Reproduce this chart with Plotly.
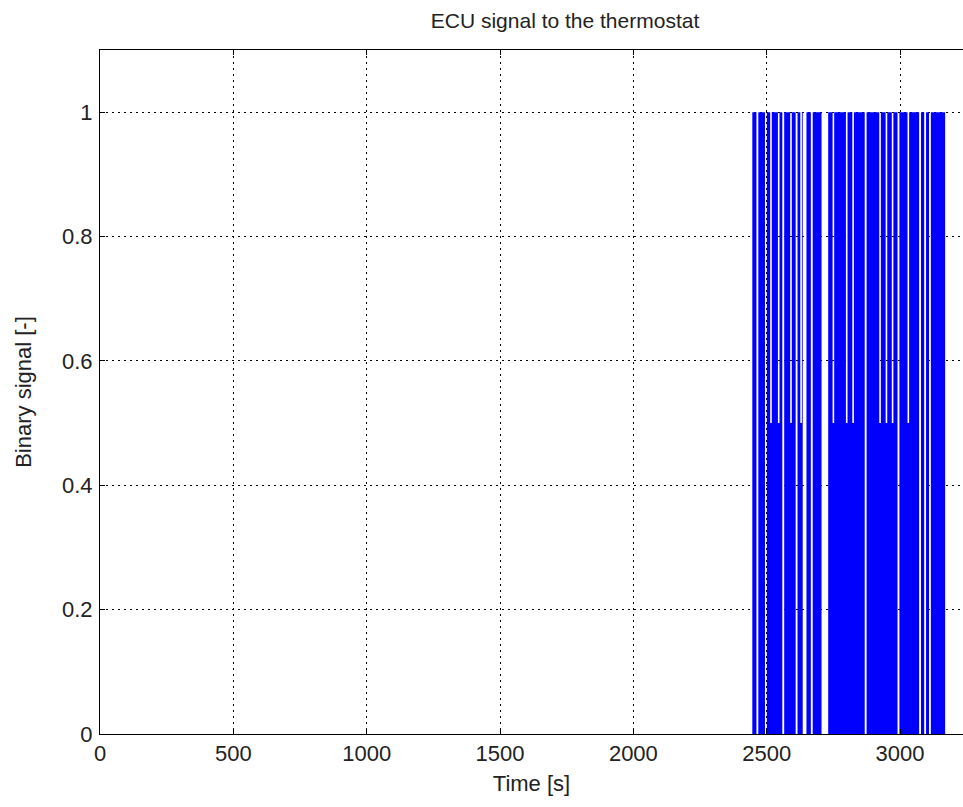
import plotly.graph_objects as go

# Thermostat command from the ECU: burst of switching activity
burst_start = 2446   # s, first switching edge
burst_end = 3169     # s, last switching edge

# Pauses inside the burst: centre time [s], duration [s], level held during pause
gap_center = [2465, 2497, 2516, 2545, 2562, 2591, 2612, 2629, 2642, 2669, 2718,
              2750, 2800, 2824, 2871, 2925, 2949, 2972, 2994, 3031, 3075, 3094, 3112]
gap_width = [7, 7, 6, 6, 7, 6, 7, 6, 14, 7, 25,
             6, 6, 6, 7, 6, 6, 6, 7, 6, 7, 7, 7]
gap_level = [0, 0, 0.5, 0.5, 0, 0.5, 0, 0.5, 0, 0, 0,
             0.5, 0.5, 0.5, 0, 0.5, 0.5, 0.5, 0, 0.5, 0, 0, 0]

x_ticks = [0, 500, 1000, 1500, 2000, 2500, 3000]
y_ticks = [0, 0.2, 0.4, 0.6, 0.8, 1]
y_tick_text = ["0", "0.2", "0.4", "0.6", "0.8", "1"]

# Step envelope of the switching signal (full swing 0..1, or 0..0.5 during pauses)
t = [0, burst_start]
v = [0, 1]
for c, w, lvl in zip(gap_center, gap_width, gap_level):
    t += [c - w / 2, c + w / 2]
    v += [lvl, 1]
t += [burst_end, 3236]
v += [0, 0]

fig = go.Figure()
fig.add_trace(go.Scatter(
    x=t, y=v, mode="lines", line=dict(shape="hv", width=0, color="#0000ff"),
    fill="tozeroy", fillcolor="#0000ff", hoverinfo="skip", showlegend=False,
))

font = "Liberation Sans, Arial, sans-serif"
fig.update_layout(
    width=963, height=807,
    margin=dict(l=100, r=0, t=50, b=73),
    paper_bgcolor="white", plot_bgcolor="white",
    font=dict(family=font, size=22, color="#222"),
    title=dict(text="ECU signal to the thermostat", x=565 / 963, xanchor="center",
               xref="container", y=1 - 21 / 807, yref="container", yanchor="middle",
               font=dict(size=21, family=font, color="#222")),
)
fig.update_xaxes(
    range=[0, 3236], tickvals=x_ticks, ticks="inside", ticklen=5, tickcolor="#000",
    showline=True, linecolor="#000", linewidth=1, mirror="ticks",
    showgrid=True, gridcolor="#000", gridwidth=1, griddash="2px,4px", zeroline=False,
    tickfont=dict(size=22), ticklabelstandoff=0,
    title=dict(text="Time [s]", font=dict(size=22), standoff=10),
)
fig.update_yaxes(
    range=[0, 1.1], tickvals=y_ticks, ticktext=y_tick_text, ticks="inside", ticklen=5,
    tickcolor="#000", showline=True, linecolor="#000", linewidth=1, mirror=False,
    showgrid=True, gridcolor="#000", gridwidth=1, griddash="2px,4px", zeroline=False,
    tickfont=dict(size=22), ticklabelstandoff=2,
    title=dict(text="Binary signal [-]", font=dict(size=22), standoff=24),
)
fig.write_html("out.html")
